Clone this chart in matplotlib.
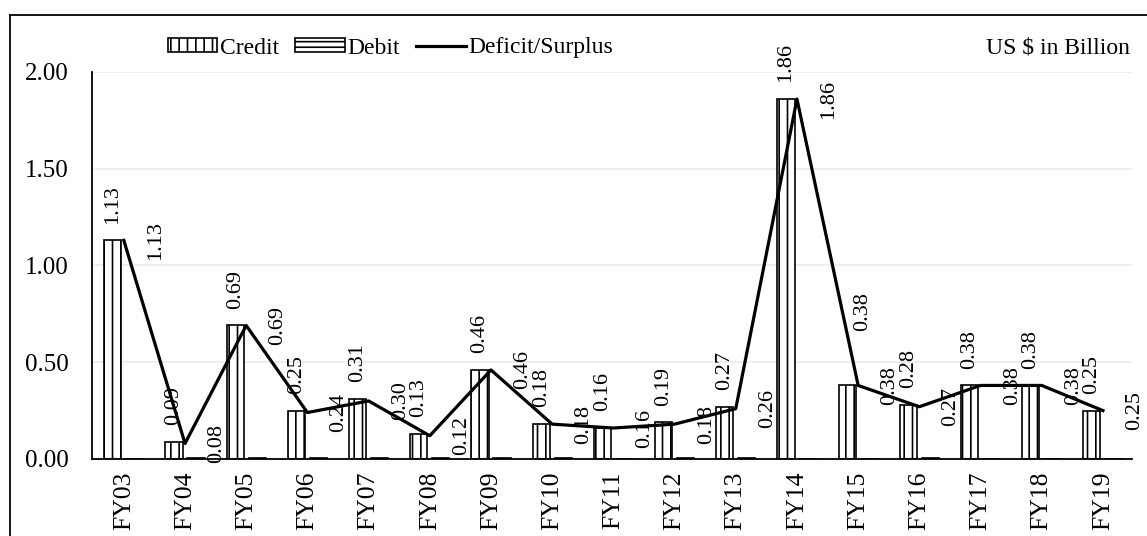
import numpy as np
import matplotlib
matplotlib.use("Agg")
import matplotlib.pyplot as plt
from matplotlib.lines import Line2D

plt.rcParams['font.family'] = ['Liberation Serif', 'DejaVu Serif']
plt.rcParams['hatch.linewidth'] = 1.2

# Data (US $ in Billion)
years = ['FY03', 'FY04', 'FY05', 'FY06', 'FY07', 'FY08', 'FY09', 'FY10', 'FY11',
         'FY12', 'FY13', 'FY14', 'FY15', 'FY16', 'FY17', 'FY18', 'FY19']
credit = [1.13, 0.09, 0.69, 0.25, 0.31, 0.13, 0.46, 0.18, 0.16,
          0.19, 0.27, 1.86, 0.38, 0.28, 0.38, 0.38, 0.25]
debit = [0.001, 0.006, 0.006, 0.007, 0.006, 0.007, 0.005, 0.005, 0.001,
         0.003, 0.003, 0.002, 0.0, 0.006, 0.001, 0.001, 0.0]
balance = [1.13, 0.08, 0.69, 0.24, 0.30, 0.12, 0.46, 0.18, 0.16,
           0.18, 0.26, 1.86, 0.38, 0.27, 0.38, 0.38, 0.25]

x = np.arange(len(years))
w = 0.28

fig = plt.figure(figsize=(11.47, 5.36), dpi=100)
ax = fig.add_axes([0.0802, 0.1437, 0.907, 0.722])

b1 = ax.bar(x - 0.18, credit, w, facecolor='white', edgecolor='black', hatch='||',
            linewidth=1.2, label='Credit', zorder=2)
b2 = ax.bar(x + 0.18, debit, w, facecolor='white', edgecolor='black', hatch='---',
            linewidth=1.2, label='Debit', zorder=2)
ln, = ax.plot(x, balance, color='black', linewidth=2.3, label='Deficit/Surplus', zorder=3)

# data labels (the FY15 credit label was nudged aside in the original)
for i, (xi, v) in enumerate(zip(x, credit)):
    off = (11, 39) if years[i] == 'FY15' else (0, 12)
    ax.annotate(f'{v:.2f}', (xi - 0.18, v), xytext=off, textcoords='offset points',
                rotation=90, ha='center', va='bottom', fontsize=16)
for xi, v in zip(x, balance):
    ax.annotate(f'{v:.2f}', (xi, v), xytext=(16, 0), textcoords='offset points',
                rotation=90, ha='left', va='center', fontsize=16)

ax.set_xlim(-0.52, 16.48)
ax.set_ylim(0, 2.0)
ax.set_yticks([0, 0.5, 1.0, 1.5, 2.0])
ax.set_yticklabels([f'{t:.2f}' for t in [0, 0.5, 1.0, 1.5, 2.0]])
ax.set_xticks(x)
ax.set_xticklabels(years, rotation=90)
ax.tick_params(axis='y', length=0, labelsize=18, pad=17)
ax.tick_params(axis='x', length=0, labelsize=18.5, pad=9)
ax.grid(axis='y', color='#ebebeb', linewidth=1.2, zorder=0)
ax.set_axisbelow(True)
for s in ['top', 'right']:
    ax.spines[s].set_visible(False)
for s in ['left', 'bottom']:
    ax.spines[s].set_linewidth(1.3)

fig.legend([b1, b2, ln], ['Credit', 'Debit', 'Deficit/Surplus'],
           loc='center left', bbox_to_anchor=(0.138, 1 - 48 / 536), ncol=3,
           frameon=False, fontsize=17, handlelength=2.1, handleheight=0.55,
           handletextpad=0.1, columnspacing=0.7, borderaxespad=0)

fig.text(1130 / 1147, 1 - 48 / 536, 'US $ in Billion', ha='right', va='center', fontsize=17)

# outer chart border
fig.add_artist(Line2D([10 / 1147, 1.0], [1 - 15 / 536, 1 - 15 / 536], color='black', linewidth=1.3))
fig.add_artist(Line2D([10 / 1147, 10 / 1147], [0, 1 - 15 / 536], color='black', linewidth=1.3))

fig.savefig('out.png', dpi=100)
